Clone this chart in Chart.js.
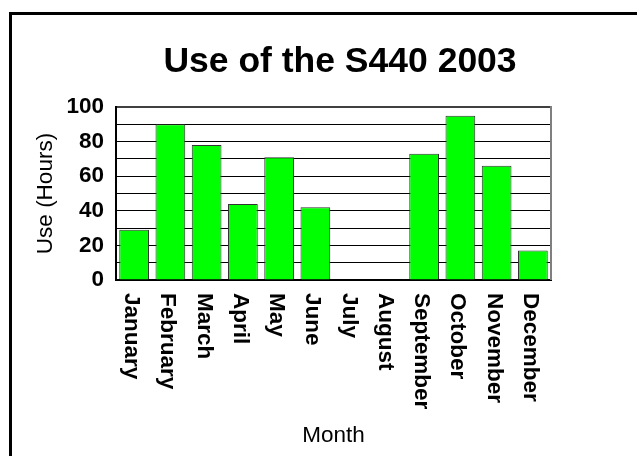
<!DOCTYPE html>
<html>
<head>
<meta charset="utf-8">
<script src="https://cdn.jsdelivr.net/npm/chart.js@4"></script>
<style>
  html, body { margin: 0; padding: 0; background: #fff; }
  #wrap { position: relative; width: 637px; height: 456px; }
  canvas { display: block; }
</style>
</head>
<body>
<div id="wrap"><canvas id="c" width="637" height="456"></canvas></div>
<script>
const chartTitle = 'Use of the S440 2003';
const months = ['January','February','March','April','May','June','July','August','September','October','November','December'];
const useHours = [29, 90, 78, 44, 71, 42, 0, 0, 73, 95, 66, 17];
const yTitle = 'Use (Hours)';
const xTitle = 'Month';

const FONT = '"Liberation Sans", Arial, Helvetica, sans-serif';

const decor = {
  id: 'decor',
  beforeDraw(chart) {
    const ctx = chart.ctx;
    ctx.save();
    ctx.fillStyle = '#fff';
    ctx.fillRect(0, 0, chart.width, chart.height);
    // outer frame (left & top)
    ctx.fillStyle = '#000';
    ctx.fillRect(9, 12, chart.width - 9, 3);
    ctx.fillRect(9, 12, 3, chart.height - 12);
    ctx.restore();
  },
  afterDraw(chart) {
    const ctx = chart.ctx;
    const a = chart.chartArea;
    const x = chart.scales.x;
    ctx.save();
    // right plot border
    ctx.strokeStyle = '#7f7f7f';
    ctx.lineWidth = 2;
    ctx.beginPath();
    ctx.moveTo(a.right, a.top - 1);
    ctx.lineTo(a.right, a.bottom);
    ctx.stroke();
    // title
    ctx.fillStyle = '#000';
    ctx.font = 'bold 35.5px ' + FONT;
    ctx.textAlign = 'center';
    ctx.textBaseline = 'alphabetic';
    ctx.fillText(chartTitle, 340, 72);
    // x tick labels, reading top to bottom
    ctx.font = 'bold 22.5px ' + FONT;
    ctx.textAlign = 'left';
    months.forEach((m, i) => {
      const px = x.getPixelForValue(i);
      ctx.save();
      ctx.translate(px, a.bottom + 13);
      ctx.rotate(Math.PI / 2);
      ctx.fillText(m, 0, 9);
      ctx.restore();
    });
    ctx.restore();
  }
};

new Chart(document.getElementById('c'), {
  type: 'bar',
  data: {
    labels: months,
    datasets: [{
      data: useHours,
      backgroundColor: '#00ff00',
      borderColor: '#333333',
      borderWidth: 1,
      barPercentage: 0.82,
      categoryPercentage: 1.0
    }]
  },
  options: {
    responsive: false,
    animation: false,
    devicePixelRatio: 1,
    layout: { padding: { top: 107, right: 86, left: 0, bottom: 0 } },
    plugins: { legend: { display: false }, tooltip: { enabled: false }, title: { display: false } },
    scales: {
      x: {
        grid: { display: false, drawTicks: false },
        border: { display: true, color: '#000', width: 2 },
        ticks: { display: false },
        title: {
          display: true, text: xTitle, color: '#000',
          font: { family: FONT, size: 22.5, weight: 'normal' },
          padding: { top: 142.5, bottom: 6.5 }
        },
        afterFit(s) { s.height = 176; }
      },
      y: {
        min: 0, max: 100,
        grid: {
          drawTicks: false,
          color: (c) => (c.tick && c.tick.value === 100) ? '#404040' : '#000',
          lineWidth: (c) => (c.tick && c.tick.value === 100) ? 2 : 1
        },
        border: { display: true, color: '#000', width: 2 },
        ticks: {
          stepSize: 10,
          autoSkip: false,
          padding: 12,
          color: '#000',
          font: { family: FONT, size: 22.5, weight: 'bold' },
          callback: (v) => (v % 20 === 0 ? String(v) : '')
        },
        title: {
          display: true, text: yTitle, color: '#000',
          font: { family: FONT, size: 22.5, weight: 'normal' },
          padding: { top: 32.5, bottom: 0 }
        },
        afterFit(s) { s.width = 116; }
      }
    }
  },
  plugins: [decor]
});
</script>
</body>
</html>
